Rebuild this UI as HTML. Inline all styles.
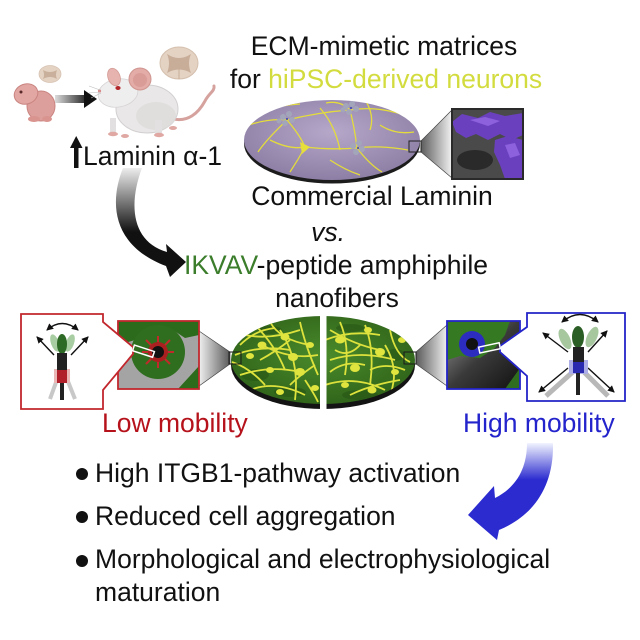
<!DOCTYPE html>
<html><head><meta charset="utf-8"><style>
html,body{margin:0;padding:0;background:#fff;}
svg{display:block;}
text{font-family:"Liberation Sans",Arial,sans-serif;}
</style></head><body>
<svg width="640" height="640" viewBox="0 0 640 640" xmlns="http://www.w3.org/2000/svg">
<defs>
 <linearGradient id="blkArr" gradientUnits="userSpaceOnUse" x1="0" y1="166" x2="0" y2="232">
  <stop offset="0" stop-color="#f4f4f4"/><stop offset="1" stop-color="#111"/>
 </linearGradient>
 <linearGradient id="smArr" gradientUnits="userSpaceOnUse" x1="55" y1="0" x2="90" y2="0">
  <stop offset="0" stop-color="#dcdcdc"/><stop offset="1" stop-color="#111"/>
 </linearGradient>
 <linearGradient id="bluArr" gradientUnits="userSpaceOnUse" x1="0" y1="443" x2="0" y2="480">
  <stop offset="0" stop-color="#f2f4ff"/><stop offset="1" stop-color="#2b2bcf"/>
 </linearGradient>
 <radialGradient id="purp" cx="0.5" cy="0.4" r="0.6">
  <stop offset="0" stop-color="#b6a8c9"/><stop offset="1" stop-color="#8d7ea5"/>
 </radialGradient>
 <radialGradient id="grn" cx="0.5" cy="0.45" r="0.6">
  <stop offset="0" stop-color="#4a8a2b"/><stop offset="1" stop-color="#2e6219"/>
 </radialGradient>
 <linearGradient id="tP" gradientUnits="userSpaceOnUse" x1="421" y1="0" x2="452" y2="0">
  <stop offset="0" stop-color="#5c5c5c"/><stop offset="1" stop-color="#f2f2f2"/>
 </linearGradient>
 <linearGradient id="tL" gradientUnits="userSpaceOnUse" x1="199" y1="0" x2="230" y2="0">
  <stop offset="0" stop-color="#f0f0f0"/><stop offset="1" stop-color="#5a5a5a"/>
 </linearGradient>
 <linearGradient id="tR" gradientUnits="userSpaceOnUse" x1="416" y1="0" x2="447" y2="0">
  <stop offset="0" stop-color="#5a5a5a"/><stop offset="1" stop-color="#f0f0f0"/>
 </linearGradient>
 <linearGradient id="in3bg" x1="0" y1="0" x2="1" y2="1">
  <stop offset="0" stop-color="#9a9a9a"/><stop offset="0.5" stop-color="#3a3a3a"/><stop offset="1" stop-color="#111"/>
 </linearGradient>
 <clipPath id="cpP"><ellipse cx="332" cy="140" rx="88" ry="40"/></clipPath>
 <clipPath id="cpG"><ellipse cx="323" cy="360" rx="92" ry="44"/></clipPath>
 <clipPath id="cpI1"><rect x="452" y="109" width="71" height="70"/></clipPath>
 <clipPath id="cpI2"><rect x="118" y="321" width="81" height="68"/></clipPath>
 <clipPath id="cpI3"><rect x="447" y="321" width="73" height="68"/></clipPath>
 <marker id="ah" markerUnits="userSpaceOnUse" markerWidth="8" markerHeight="8" refX="6" refY="3.5" orient="auto-start-reverse">
  <path d="M0,0 L7,3.5 L0,7 z" fill="#111"/>
 </marker>
</defs>

<!-- ===== Top-left: mice ===== -->
<g>
 <ellipse cx="41" cy="106" rx="14" ry="15" fill="#dd9f9b" stroke="#c98480" stroke-width="1"/>
 <ellipse cx="26" cy="94" rx="12" ry="10" transform="rotate(-20 26 94)" fill="#e2a7a3" stroke="#c98480" stroke-width="1"/>
 <ellipse cx="34" cy="119" rx="6" ry="3" fill="#d9948f"/>
 <ellipse cx="47" cy="119" rx="5" ry="3" fill="#d9948f"/>
 <circle cx="21" cy="92" r="1.5" fill="#5a2a2a"/>
</g>
<ellipse cx="50" cy="74" rx="11" ry="8.5" fill="#e4d2c3" stroke="#d7c3b2" stroke-width="0.8"/>
<path d="M43 70 Q50 74 57 70 Q55 75 57 79 Q50 75 43 79 Q45 75 43 70 Z" fill="#c9b09c"/>
<rect x="55" y="95" width="31" height="8" fill="url(#smArr)"/>
<polygon points="84,90 97,99 84,108" fill="#111"/>
<g>
 <path d="M170 118 C188 124 199 112 205 101 C209 93 215 91 214 86" stroke="#d6a29e" stroke-width="3" fill="none" stroke-linecap="round"/>
 <ellipse cx="147" cy="109" rx="31" ry="24" fill="#e9e7e7" stroke="#d2cfcf" stroke-width="1"/>
 <ellipse cx="156" cy="116" rx="20" ry="14" fill="#dcd9d9" opacity="0.7"/>
 <rect x="110" y="118" width="6" height="15" fill="#e2e0e0"/>
 <rect x="155" y="120" width="7" height="14" fill="#e2e0e0"/>
 <ellipse cx="118" cy="93" rx="20" ry="14" transform="rotate(-10 118 93)" fill="#efeeee" stroke="#d6d3d3" stroke-width="0.8"/>
 <path d="M98 91 L110 83 L110 100 Z" fill="#efeeee"/>
 <circle cx="99.5" cy="91" r="1.6" fill="#d98a8a"/>
 <ellipse cx="114" cy="77" rx="6" ry="9" transform="rotate(-20 114 77)" fill="#e6b3ae" stroke="#d39a95" stroke-width="0.8"/>
 <circle cx="140" cy="79" r="11" fill="#e4aca7" stroke="#cf9590" stroke-width="1"/>
 <circle cx="140" cy="80" r="7" fill="#d99c97"/>
 <ellipse cx="118" cy="88" rx="2.6" ry="2" fill="#b3262a"/>
 <ellipse cx="113" cy="134" rx="5" ry="2.2" fill="#e0a8a3"/>
 <ellipse cx="125" cy="136" rx="4" ry="2" fill="#e0a8a3"/>
 <ellipse cx="159" cy="135" rx="5" ry="2.2" fill="#e0a8a3"/>
 <ellipse cx="173" cy="128" rx="4" ry="2" fill="#e0a8a3"/>
 <path d="M100 90 L89 86 M100 92 L89 93 M101 93 L91 98" stroke="#bbb" stroke-width="0.6"/>
</g>
<ellipse cx="179" cy="63" rx="19" ry="16" fill="#e4d2c3" stroke="#d5c0ae" stroke-width="1"/>
<path d="M167 54 Q179 62 191 54 Q187 63 191 73 Q179 66 167 73 Q171 63 167 54 Z" fill="#c8ad98"/>
<line x1="179" y1="66" x2="179" y2="79" stroke="#c8ad98" stroke-width="1"/>

<rect x="74" y="146" width="4.5" height="22" fill="#111"/>
<polygon points="70,148 76.2,136 82.5,148" fill="#111"/>
<text x="83" y="165" font-size="26.5" fill="#111">Laminin α-1</text>

<text x="384" y="55" font-size="26.5" fill="#111" text-anchor="middle">ECM-mimetic matrices</text>
<text x="386" y="88" font-size="26.5" fill="#111" text-anchor="middle">for <tspan fill="#d3dc3e">hiPSC-derived neurons</tspan></text>

<!-- ===== Purple disc ===== -->
<ellipse cx="332" cy="143.5" rx="88" ry="40" fill="#1c1c1c"/>
<ellipse cx="332" cy="140" rx="88" ry="40" fill="url(#purp)"/>
<g clip-path="url(#cpP)">
 <g stroke="#e3dc3c" stroke-width="1.3" fill="none">
  <path d="M246 126 Q268 118 287 120"/>
  <path d="M287 120 Q320 112 350 110"/>
  <path d="M350 110 Q380 105 412 118"/>
  <path d="M287 120 Q300 135 305 147"/>
  <path d="M305 147 Q330 150 357 148"/>
  <path d="M357 148 Q380 145 408 150"/>
  <path d="M350 110 Q355 130 357 148"/>
  <path d="M305 147 Q298 160 290 172"/>
  <path d="M287 120 Q266 140 258 152"/>
  <path d="M350 110 Q340 100 326 103"/>
  <path d="M357 148 Q370 165 382 172"/>
  <path d="M320 108 Q335 125 340 150"/>
  <path d="M258 112 Q280 105 300 104"/>
  <path d="M380 125 Q395 135 414 132"/>
  <path d="M270 140 Q290 150 305 147"/>
  <path d="M330 160 Q345 170 360 175"/>
  <path d="M365 100 Q375 115 370 130"/>
 </g>
 <path d="M300 142 L310 147 L302 154 Z" fill="#e6df3a"/>
 <g fill="#a3a6bb">
  <circle cx="283" cy="117" r="3"/><circle cx="289" cy="114" r="3"/><circle cx="292" cy="120" r="3"/><circle cx="285" cy="123" r="3"/><circle cx="279" cy="121" r="2.5"/>
  <circle cx="346" cy="106" r="3"/><circle cx="352" cy="104" r="3"/><circle cx="356" cy="109" r="3"/><circle cx="349" cy="112" r="3"/><circle cx="343" cy="110" r="2.5"/>
  <circle cx="353" cy="146" r="3"/><circle cx="359" cy="143" r="3"/><circle cx="362" cy="149" r="3"/><circle cx="356" cy="152" r="3"/>
 </g>
 <g fill="#3a43b0"><circle cx="287" cy="119" r="1"/><circle cx="351" cy="108" r="1"/><circle cx="358" cy="148" r="1"/></g>
</g>
<polygon points="421,141 452,110 452,178 421,152" fill="url(#tP)" stroke="#444" stroke-width="0.7"/>
<rect x="409" y="141" width="12" height="11" fill="none" stroke="#222" stroke-width="1"/>
<g clip-path="url(#cpI1)">
 <rect x="452" y="109" width="71" height="70" fill="#4a4a4a"/>
 <ellipse cx="475" cy="160" rx="18" ry="10" fill="#2a2a2a"/>
 <path d="M452 122 L462 114 L478 118 L490 112 L505 116 L523 113 L523 135 L512 140 L500 134 L488 140 L476 134 L466 138 L456 132 Z" fill="#6b40bf"/>
 <path d="M495 140 L508 136 L523 140 L523 179 L505 179 L500 165 L494 152 Z" fill="#6b40bf"/>
 <path d="M470 120 L485 117 L500 121 L488 126 Z" fill="#8d60dd"/>
 <path d="M505 145 L515 143 L520 155 L510 158 Z" fill="#8d60dd"/>
</g>
<rect x="452" y="109" width="71" height="70" fill="none" stroke="#2a2a2a" stroke-width="2"/>

<text x="372" y="205" font-size="26.5" fill="#111" text-anchor="middle">Commercial Laminin</text>
<text x="328" y="241" font-size="26.5" fill="#111" text-anchor="middle" font-style="italic">vs.</text>

<path d="M123 168 C110 200 110 245 166 266 L170 277 L186 262 L166 244 L167 252 C132 242 128 205 142 168 Z" fill="url(#blkArr)"/>

<text x="184" y="274" font-size="26.5" fill="#111"><tspan fill="#3b7d2b">IKVAV</tspan>-peptide amphiphile</text>
<text x="337" y="307" font-size="26.5" fill="#111" text-anchor="middle">nanofibers</text>

<!-- ===== Green disc ===== -->
<ellipse cx="323" cy="365" rx="92" ry="44" fill="#141414"/>
<ellipse cx="323" cy="360" rx="92" ry="44" fill="url(#grn)"/>
<g clip-path="url(#cpG)">
 <g fill="#285516" opacity="0.6">
  <ellipse cx="255" cy="375" rx="14" ry="6"/><ellipse cx="290" cy="392" rx="16" ry="5"/>
  <ellipse cx="360" cy="395" rx="18" ry="5"/><ellipse cx="395" cy="355" rx="10" ry="6"/>
  <ellipse cx="270" cy="330" rx="12" ry="4"/><ellipse cx="350" cy="328" rx="14" ry="4"/>
 </g>
 <g stroke="#dde23c" stroke-width="1.8" fill="none">
  <path d="M235 355 Q260 345 290 350"/>
  <path d="M245 335 Q270 340 300 330"/>
  <path d="M240 375 Q270 365 300 372"/>
  <path d="M255 325 Q275 345 285 370"/>
  <path d="M270 322 Q280 340 310 345"/>
  <path d="M250 390 Q275 380 305 395"/>
  <path d="M262 345 Q290 360 318 355"/>
  <path d="M280 330 Q300 360 295 400"/>
  <path d="M300 322 Q305 345 318 375"/>
  <path d="M232 362 Q250 368 265 385"/>
  <path d="M325 340 Q350 330 380 335"/>
  <path d="M330 360 Q360 350 395 360"/>
  <path d="M325 385 Q355 375 385 390"/>
  <path d="M340 322 Q350 345 345 375"/>
  <path d="M365 325 Q375 350 370 385"/>
  <path d="M390 330 Q395 355 410 362"/>
  <path d="M330 330 Q355 345 380 350"/>
  <path d="M350 395 Q370 385 400 380"/>
  <path d="M385 345 Q400 370 390 395"/>
  <path d="M330 372 Q345 360 365 365"/>
  <path d="M240 345 Q255 330 275 328"/>
  <path d="M305 380 Q315 395 318 402"/>
  <path d="M260 360 Q275 352 290 340"/>
  <path d="M335 350 Q348 358 360 345"/>
  <path d="M370 370 Q385 362 405 370"/>
  <path d="M290 385 Q300 375 315 365"/>
 </g>
 <g fill="#dfe43e">
  <ellipse cx="262" cy="345" rx="4.5" ry="3.5"/><ellipse cx="285" cy="337" rx="4.5" ry="3.5"/><ellipse cx="300" cy="372" rx="5" ry="4"/>
  <ellipse cx="270" cy="370" rx="4" ry="3"/><ellipse cx="250" cy="356" rx="4" ry="3"/><ellipse cx="293" cy="357" rx="5" ry="4"/>
  <ellipse cx="310" cy="345" rx="4" ry="3"/><ellipse cx="340" cy="340" rx="5" ry="3.5"/><ellipse cx="368" cy="330" rx="4" ry="3"/>
  <ellipse cx="380" cy="352" rx="5" ry="4"/><ellipse cx="355" cy="368" rx="5" ry="4"/><ellipse cx="395" cy="372" rx="4" ry="3"/>
  <ellipse cx="345" cy="385" rx="4" ry="3"/><ellipse cx="372" cy="390" rx="4.5" ry="3.5"/><ellipse cx="402" cy="340" rx="4" ry="3"/>
  <ellipse cx="315" cy="388" rx="4" ry="3"/><ellipse cx="280" cy="392" rx="4" ry="3"/>
 </g>
</g>
<rect x="320" y="310" width="6.5" height="104" fill="#fff"/>

<!-- left zoom (low mobility) -->
<polygon points="230,352 199,331 199,386 230,364" fill="url(#tL)" stroke="#444" stroke-width="0.7"/>
<rect x="229" y="352" width="12" height="12" fill="none" stroke="#1a1a1a" stroke-width="1"/>
<g clip-path="url(#cpI2)">
 <rect x="118" y="321" width="81" height="68" fill="#a4a4a4"/>
 <path d="M118 321 L199 321 L199 335 L185 338 L170 328 L150 330 L135 340 L118 345 Z" fill="#2c6a1c"/>
 <circle cx="158" cy="352" r="27" fill="#2f6e1e"/>
 <path d="M178 389 L199 366 L199 389 Z" fill="#2c6a1c"/>
 <g stroke="#c02a2a" stroke-width="2">
  <path d="M158 352 L158 336 M158 352 L170 340 M158 352 L174 352 M158 352 L170 364 M158 352 L158 368 M158 352 L146 364 M158 352 L142 352 M158 352 L146 340"/>
 </g>
 <circle cx="158" cy="352" r="10" fill="#a82020"/>
 <circle cx="158" cy="352" r="6" fill="#111"/>
</g>
<rect x="118" y="321" width="81" height="68" fill="none" stroke="#c1272d" stroke-width="1.8"/>
<polygon points="21,314 103,314 103,322 133,347 133,354 103,390 103,409 21,409" fill="#fff" stroke="#c1272d" stroke-width="1.8"/>
<rect x="133" y="348" width="21" height="6" transform="rotate(18 143 351)" fill="none" stroke="#fff" stroke-width="1.5"/>
<g>
 <path d="M47 330 Q62 317 78 330" stroke="#111" stroke-width="1.4" fill="none" marker-start="url(#ah)" marker-end="url(#ah)"/>
 <line x1="54" y1="355" x2="37" y2="337" stroke="#111" stroke-width="1.4" marker-end="url(#ah)"/>
 <line x1="71" y1="355" x2="88" y2="337" stroke="#111" stroke-width="1.4" marker-end="url(#ah)"/>
 <ellipse cx="55" cy="343" rx="4" ry="9" transform="rotate(-20 55 343)" fill="#a8cda2"/>
 <ellipse cx="70" cy="343" rx="4" ry="9" transform="rotate(20 70 343)" fill="#a8cda2"/>
 <line x1="59" y1="374" x2="50" y2="399" stroke="#c8c8c8" stroke-width="4"/>
 <line x1="65" y1="374" x2="75" y2="399" stroke="#c8c8c8" stroke-width="4"/>
 <rect x="54" y="369" width="16" height="14" fill="#eab6b6"/>
 <ellipse cx="62" cy="344" rx="5" ry="10" fill="#2d6a26"/>
 <rect x="57" y="353" width="10" height="18" fill="#222"/>
 <rect x="57" y="370" width="10" height="13" fill="#b0202a"/>
 <rect x="60" y="383" width="4" height="17" fill="#222"/>
</g>
<text x="102" y="432" font-size="26.5" fill="#b5121b">Low mobility</text>

<!-- right zoom (high mobility) -->
<polygon points="416,352 447,325 447,386 416,364" fill="url(#tR)" stroke="#444" stroke-width="0.7"/>
<rect x="404" y="352" width="12" height="12" fill="none" stroke="#1a1a1a" stroke-width="1"/>
<g clip-path="url(#cpI3)">
 <rect x="447" y="321" width="73" height="68" fill="url(#in3bg)"/>
 <path d="M447 321 L510 321 L505 335 L495 348 L480 358 L460 356 L447 360 Z" fill="#357a22"/>
 <path d="M505 389 L520 368 L520 389 Z" fill="#2f6e1e"/>
 <circle cx="472" cy="344" r="13" fill="#2c2cc0"/>
 <circle cx="472" cy="344" r="6" fill="#111"/>
</g>
<rect x="447" y="321" width="73" height="68" fill="none" stroke="#2424c8" stroke-width="1.8"/>
<polygon points="527,313 625,313 625,401 527,401 527,376 500,352 500,346 527,327" fill="#fff" stroke="#2424c8" stroke-width="1.8"/>
<rect x="479" y="345" width="21" height="6" transform="rotate(-12 489 348)" fill="none" stroke="#fff" stroke-width="1.5"/>
<g>
 <path d="M562 322 Q580 307 598 322" stroke="#111" stroke-width="1.4" fill="none" marker-start="url(#ah)" marker-end="url(#ah)"/>
 <ellipse cx="565" cy="339" rx="5" ry="11" transform="rotate(-25 565 339)" fill="#a7c79f"/>
 <ellipse cx="592" cy="337" rx="5" ry="11" transform="rotate(25 592 337)" fill="#a7c79f"/>
 <line x1="575" y1="370" x2="546" y2="396" stroke="#b8b8b8" stroke-width="5"/>
 <line x1="582" y1="370" x2="608" y2="396" stroke="#b8b8b8" stroke-width="5"/>
 <line x1="568" y1="352" x2="543" y2="333" stroke="#111" stroke-width="1.4" marker-end="url(#ah)"/>
 <line x1="588" y1="352" x2="607" y2="331" stroke="#111" stroke-width="1.4" marker-end="url(#ah)"/>
 <line x1="568" y1="368" x2="539" y2="392" stroke="#111" stroke-width="1.4" marker-end="url(#ah)"/>
 <line x1="588" y1="368" x2="614" y2="392" stroke="#111" stroke-width="1.4" marker-end="url(#ah)"/>
 <rect x="569" y="360" width="19" height="14" fill="#aeaee6"/>
 <ellipse cx="578" cy="337" rx="6" ry="11" fill="#2b5e25"/>
 <rect x="573" y="347" width="11" height="15" fill="#222"/>
 <rect x="573" y="362" width="11" height="11" fill="#2a2ab0"/>
 <rect x="576" y="373" width="4" height="22" fill="#222"/>
</g>
<text x="463" y="432" font-size="26.5" fill="#2424cc">High mobility</text>

<path d="M553 443 C554 485 535 515 499 530 L497 540 L468 515 L494 486 L495 498 C515 488 527 470 527 443 Z" fill="url(#bluArr)"/>

<circle cx="82" cy="474" r="6" fill="#111"/>
<text x="95" y="482" font-size="26.5" fill="#111">High ITGB1-pathway activation</text>
<circle cx="82" cy="517" r="6" fill="#111"/>
<text x="95" y="525" font-size="26.5" fill="#111">Reduced cell aggregation</text>
<circle cx="82" cy="561" r="6" fill="#111"/>
<text x="95" y="568" font-size="26.5" fill="#111">Morphological and electrophysiological</text>
<text x="95" y="601" font-size="26.5" fill="#111">maturation</text>
</svg>
</body></html>
